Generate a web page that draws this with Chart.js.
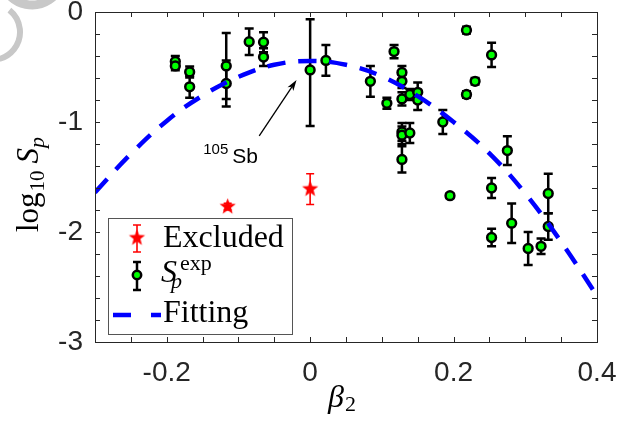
<!DOCTYPE html>
<html>
<head>
<meta charset="utf-8">
<script src="https://cdn.jsdelivr.net/npm/chart.js@4.4.0/dist/chart.umd.min.js"></script>
<style>
  html, body { margin: 0; padding: 0; background: #fff; }
</style>
</head>
<body>
<canvas id="chartSp" width="643" height="430"></canvas>
<script>
// S_p^exp points (beta2, log10 Sp) with error bars
const expBeta = [-0.188, -0.188, -0.168, -0.168, -0.117, -0.117, -0.085, -0.065, -0.065, 0.0,
  0.022, 0.084, 0.107, 0.117, 0.128, 0.128, 0.128, 0.139, 0.150, 0.150,
  0.128, 0.128, 0.139, 0.128, 0.185, 0.195, 0.218, 0.218, 0.230, 0.253,
  0.275, 0.253, 0.332, 0.332, 0.253, 0.281, 0.304, 0.322];
const expLog = [-0.45, -0.49, -0.545, -0.68, -0.49, -0.65, -0.27, -0.275, -0.41, -0.527,
  -0.44, -0.63, -0.83, -0.36, -0.55, -0.63, -0.79, -0.75, -0.73, -0.80,
  -1.09, -1.12, -1.10, -1.34, -1.00, -1.67, -0.165, -0.75, -0.63, -0.39,
  -1.26, -1.60, -1.65, -1.95, -2.05, -1.92, -2.15, -2.13];
const expErrUp = [0.05, 0.04, 0.05, 0.10, 0.30, 0.21, 0.12, 0.09, 0.08, 0.46,
  0.14, 0.14, 0.05, 0.06, 0.06, 0.06, 0.06, 0.05, 0.09, 0.09,
  0.08, 0.08, 0.09, 0.12, 0.11, 0.02, 0.03, 0.03, 0.03, 0.11,
  0.13, 0.09, 0.18, 0.12, 0.08, 0.18, 0.15, 0.07];
const expErrDown = [0.05, 0.04, 0.05, 0.10, 0.30, 0.21, 0.12, 0.09, 0.08, 0.51,
  0.14, 0.14, 0.05, 0.06, 0.06, 0.06, 0.06, 0.05, 0.09, 0.09,
  0.08, 0.08, 0.09, 0.12, 0.11, 0.02, 0.03, 0.03, 0.03, 0.11,
  0.13, 0.09, 0.18, 0.12, 0.08, 0.18, 0.15, 0.07];

// excluded points
const exclBeta = [-0.115, 0.0];
const exclLog = [-1.77, -1.61];
const exclErr = [0.03, 0.14];

// fitting curve
const fitBeta = [-0.3, -0.25, -0.2, -0.15, -0.1, -0.05, 0.0, 0.05, 0.1, 0.15, 0.2, 0.25, 0.3, 0.35, 0.4];
const fitLog = [-1.64, -1.29, -0.99, -0.76, -0.59, -0.48, -0.445, -0.48, -0.585, -0.765, -1.0, -1.285, -1.65, -2.09, -2.58];

// tick labels
const xTickLabels = [-0.2, 0, 0.2, 0.4];
const yTickLabels = [-3, -2, -1, 0];

// annotation arrow (tail, head) in data units
const annoTail = [-0.071, -1.127];
const annoHead = [-0.019, -0.618];

const axisColor = "#262626";
const serif = "'Liberation Serif', 'Times New Roman', serif";
const sans = "'Liberation Sans', Arial, sans-serif";

// filled red pentagram used as point style
function makeStar(r, color) {
  const c = document.createElement("canvas");
  const s = Math.ceil(r * 2 + 2);
  c.width = s; c.height = s;
  const g = c.getContext("2d");
  g.beginPath();
  for (let i = 0; i < 10; i++) {
    const rad = i % 2 === 0 ? r : r * 0.42;
    const a = -Math.PI / 2 + i * Math.PI / 5;
    const px = s / 2 + rad * Math.cos(a), py = s / 2 + rad * Math.sin(a);
    if (i === 0) g.moveTo(px, py); else g.lineTo(px, py);
  }
  g.closePath();
  g.fillStyle = color;
  g.fill();
  return c;
}
const starImg = makeStar(8.5, "#ff0000");

function drawErrBar(ctx, px, top, bottom, cap, color, width) {
  ctx.strokeStyle = color;
  ctx.lineWidth = width;
  ctx.beginPath();
  ctx.moveTo(px, top); ctx.lineTo(px, bottom);
  ctx.moveTo(px - cap, top); ctx.lineTo(px + cap, top);
  ctx.moveTo(px - cap, bottom); ctx.lineTo(px + cap, bottom);
  ctx.stroke();
}

const errorBars = {
  id: "errorBars",
  beforeDatasetsDraw(chart) {
    const { ctx, scales: { x, y } } = chart;
    ctx.save();
    expBeta.forEach((b, i) => {
      drawErrBar(ctx, x.getPixelForValue(b), y.getPixelForValue(expLog[i] + expErrUp[i]),
        y.getPixelForValue(expLog[i] - expErrDown[i]), 4.5, "#000", 2.5);
    });
    exclBeta.forEach((b, i) => {
      drawErrBar(ctx, x.getPixelForValue(b), y.getPixelForValue(exclLog[i] + exclErr[i]),
        y.getPixelForValue(exclLog[i] - exclErr[i]), 4, "#ff0000", 1.6);
    });
    ctx.restore();
  },
};

const axesBox = {
  id: "axesBox",
  beforeDraw(chart) {
    // grey corner mark from the source image
    const { ctx } = chart;
    ctx.save();
    ctx.strokeStyle = "#c8c8c8";
    ctx.lineWidth = 6;
    ctx.beginPath();
    ctx.arc(-8, 32, 28, -0.9, 1.3);
    ctx.stroke();
    ctx.lineWidth = 9;
    ctx.beginPath();
    ctx.arc(32, -26, 31, 0.2, 2.9);
    ctx.stroke();
    ctx.restore();
  },
  afterDraw(chart) {
    const { ctx, chartArea: a, scales: { x, y } } = chart;
    ctx.save();
    ctx.strokeStyle = axisColor;
    ctx.lineWidth = 1;
    ctx.strokeRect(a.left + 0.5, a.top + 0.5, a.right - a.left, a.bottom - a.top);
    ctx.beginPath();
    x.ticks.forEach(t => {
      const px = Math.round(x.getPixelForValue(t.value)) + 0.5;
      ctx.moveTo(px, a.bottom); ctx.lineTo(px, a.bottom - 5);
      ctx.moveTo(px, a.top); ctx.lineTo(px, a.top + 5);
    });
    y.ticks.forEach(t => {
      const py = Math.round(y.getPixelForValue(t.value)) + 0.5;
      ctx.moveTo(a.left, py); ctx.lineTo(a.left + 5, py);
      ctx.moveTo(a.right, py); ctx.lineTo(a.right - 5, py);
    });
    ctx.stroke();

    // axis titles
    ctx.fillStyle = "#000";
    ctx.textBaseline = "alphabetic";
    ctx.textAlign = "left";
    ctx.font = "italic 32px " + serif;
    ctx.fillText("\u03b2", 328, 407);
    ctx.font = "22px " + serif;
    ctx.fillText("2", 345, 411);

    ctx.translate(38, 232);
    ctx.rotate(-Math.PI / 2);
    ctx.font = "31px " + serif;
    ctx.fillText("log", 0, 0);
    let w = ctx.measureText("log").width;
    ctx.font = "21px " + serif;
    ctx.fillText("10", w + 1, 6);
    w += ctx.measureText("10").width + 8;
    ctx.font = "italic 31px " + serif;
    ctx.fillText("S", w, 0);
    w += ctx.measureText("S").width;
    ctx.font = "italic 22px " + serif;
    ctx.fillText("p", w, 6);
    ctx.restore();
  },
};

const annotation = {
  id: "annotation",
  afterDatasetsDraw(chart) {
    const { ctx, scales: { x, y } } = chart;
    const tx = x.getPixelForValue(annoTail[0]), ty = y.getPixelForValue(annoTail[1]);
    const hx = x.getPixelForValue(annoHead[0]), hy = y.getPixelForValue(annoHead[1]);
    const ang = Math.atan2(hy - ty, hx - tx);
    ctx.save();
    ctx.strokeStyle = "#000";
    ctx.fillStyle = "#000";
    ctx.lineWidth = 1.3;
    ctx.beginPath();
    ctx.moveTo(tx, ty);
    ctx.lineTo(hx - 8 * Math.cos(ang), hy - 8 * Math.sin(ang));
    ctx.stroke();
    ctx.beginPath();
    ctx.moveTo(hx, hy);
    ctx.lineTo(hx - 11 * Math.cos(ang) + 3.5 * Math.sin(ang), hy - 11 * Math.sin(ang) - 3.5 * Math.cos(ang));
    ctx.lineTo(hx - 8 * Math.cos(ang), hy - 8 * Math.sin(ang));
    ctx.lineTo(hx - 11 * Math.cos(ang) - 3.5 * Math.sin(ang), hy - 11 * Math.sin(ang) + 3.5 * Math.cos(ang));
    ctx.closePath();
    ctx.fill();
    ctx.textBaseline = "alphabetic";
    ctx.font = "15px " + sans;
    ctx.fillText("105", tx - 56, ty + 18);
    ctx.font = "21px " + sans;
    ctx.fillText("Sb", tx - 27, ty + 27);
    ctx.restore();
  },
};

const legendBox = {
  id: "legendBox",
  afterDraw(chart) {
    const { ctx } = chart;
    ctx.save();
    ctx.fillStyle = "#fff";
    ctx.fillRect(108, 218, 184, 116);
    ctx.strokeStyle = "#555";
    ctx.lineWidth = 1;
    ctx.strokeRect(108.5, 218.5, 184, 116);

    drawErrBar(ctx, 137, 225, 252, 4, "#ff0000", 1.6);
    ctx.drawImage(starImg, 137 - starImg.width / 2, 238 - starImg.height / 2);
    drawErrBar(ctx, 137, 262, 290, 4, "#000", 2.5);
    ctx.beginPath();
    ctx.arc(137, 275, 4.2, 0, Math.PI * 2);
    ctx.fillStyle = "#00ff00";
    ctx.fill();
    ctx.lineWidth = 2.5;
    ctx.strokeStyle = "#000";
    ctx.stroke();
    ctx.strokeStyle = "#0000ff";
    ctx.lineWidth = 4.5;
    ctx.beginPath();
    ctx.moveTo(113, 315); ctx.lineTo(131, 315);
    ctx.moveTo(151, 315); ctx.lineTo(161, 315);
    ctx.stroke();

    ctx.fillStyle = "#000";
    ctx.textAlign = "left";
    ctx.textBaseline = "alphabetic";
    ctx.font = "32px " + serif;
    ctx.fillText("Excluded", 163, 247);
    ctx.fillText("Fitting", 163, 322);
    ctx.font = "italic 32px " + serif;
    ctx.fillText("S", 161, 282);
    ctx.font = "italic 22px " + serif;
    ctx.fillText("p", 171, 288);
    ctx.font = "22px " + serif;
    ctx.fillText("exp", 180, 270);
    ctx.restore();
  },
};

const onLabel = (v, list) => list.some(t => Math.abs(v - t) < 1e-6);

new Chart(document.querySelector("#chartSp"), {
  type: "scatter",
  data: {
    datasets: [
      {
        label: "Fitting",
        type: "line",
        data: fitBeta.map((b, i) => ({ x: b, y: fitLog[i] })),
        borderColor: "#0000ff",
        borderWidth: 4.5,
        borderDash: [18, 13],
        pointRadius: 0,
        tension: 0.4,
        fill: false,
        order: 0,
      },
      {
        label: "S_p^exp",
        data: expBeta.map((b, i) => ({ x: b, y: expLog[i] })),
        pointRadius: 4.4,
        pointBackgroundColor: "#00ff00",
        pointBorderColor: "#000",
        pointBorderWidth: 2.5,
        order: 1,
      },
      {
        label: "Excluded",
        data: exclBeta.map((b, i) => ({ x: b, y: exclLog[i] })),
        pointStyle: starImg,
        order: 2,
      },
    ],
  },
  options: {
    responsive: false,
    animation: false,
    devicePixelRatio: 1,
    layout: { padding: { top: 12, right: 46, left: 0, bottom: 0 } },
    scales: {
      x: {
        type: "linear",
        min: -0.3,
        max: 0.4,
        afterFit: s => { s.height = 88; s.paddingLeft = 0; s.paddingRight = 0; },
        grid: { display: false, drawTicks: false },
        border: { display: false },
        ticks: {
          stepSize: 0.05,
          autoSkip: false,
          maxRotation: 0,
          padding: 14,
          color: axisColor,
          font: { family: sans, size: 28 },
          callback: v => onLabel(v, xTickLabels) ? (Math.abs(v) < 1e-6 ? "0" : v.toFixed(1)) : "",
        },
      },
      y: {
        min: -3,
        max: 0,
        afterFit: s => { s.width = 95; s.paddingTop = 0; s.paddingBottom = 0; },
        grid: { display: false, drawTicks: false },
        border: { display: false },
        ticks: {
          stepSize: 0.2,
          autoSkip: false,
          padding: 12,
          color: axisColor,
          font: { family: sans, size: 28 },
          callback: v => onLabel(v, yTickLabels) ? String(Math.round(v)) : "",
        },
      },
    },
    plugins: {
      legend: { display: false },
      tooltip: { enabled: false },
    },
  },
  plugins: [axesBox, errorBars, annotation, legendBox],
});
</script>
</body>
</html>
